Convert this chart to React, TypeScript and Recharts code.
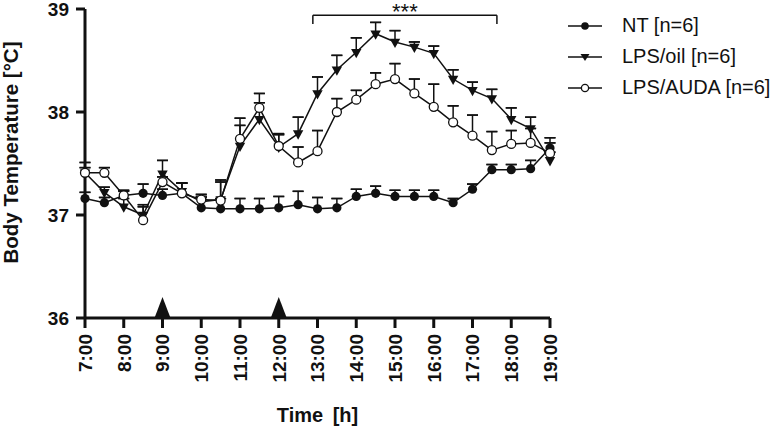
import { LineChart, Line, XAxis, YAxis, ErrorBar, ReferenceLine, ReferenceDot } from "recharts";

// time of day in hours, one reading every 30 min
const times = [7, 7.5, 8, 8.5, 9, 9.5, 10, 10.5, 11, 11.5, 12, 12.5, 13, 13.5, 14, 14.5, 15, 15.5, 16, 16.5, 17, 17.5, 18, 18.5, 19];

const ntMean = [37.16, 37.12, 37.19, 37.21, 37.19, 37.21, 37.07, 37.06, 37.06, 37.06, 37.07, 37.1, 37.06, 37.07, 37.18, 37.21, 37.18, 37.18, 37.18, 37.12, 37.25, 37.44, 37.44, 37.45, 37.65];
const ntSem = [0.06, 0.05, 0.05, 0.09, 0.06, 0.1, 0.1, 0.1, 0.1, 0.1, 0.11, 0.13, 0.11, 0.09, 0.07, 0.07, 0.06, 0.06, 0.06, 0.04, 0.05, 0.05, 0.05, 0.08, 0.1];

const oilMean = [37.41, 37.22, 37.08, 37.0, 37.4, 37.23, 37.13, 37.15, 37.67, 37.93, 37.66, 37.79, 38.18, 38.41, 38.58, 38.76, 38.68, 38.63, 38.57, 38.32, 38.21, 38.13, 37.93, 37.84, 37.53];
const oilSem = [0.1, 0.05, 0.08, 0.08, 0.13, 0.08, 0.05, 0.17, 0.2, 0.16, 0.12, 0.16, 0.16, 0.14, 0.14, 0.11, 0.11, 0.05, 0.07, 0.09, 0.08, 0.09, 0.11, 0.11, 0.08];

const audaMean = [37.41, 37.41, 37.19, 36.95, 37.32, 37.21, 37.15, 37.14, 37.74, 38.04, 37.67, 37.51, 37.62, 38.0, 38.12, 38.27, 38.32, 38.18, 38.05, 37.9, 37.77, 37.63, 37.69, 37.7, 37.6];
const audaSem = [0.05, 0.05, 0.04, 0.15, 0.05, 0.1, 0.05, 0.2, 0.2, 0.14, 0.12, 0.15, 0.2, 0.13, 0.09, 0.11, 0.15, 0.14, 0.22, 0.16, 0.2, 0.18, 0.13, 0.14, 0.1];

const hourTicks = [7, 8, 9, 10, 11, 12, 13, 14, 15, 16, 17, 18, 19];
const tempTicks = [36, 37, 38, 39];
const injections = [9, 12];
// significance bracket: start, end, bar level, foot level
const sigSpan = [12.88, 17.63];
const sigLevels = [38.94, 38.855];

const data = times.map((t, i) => ({
  t,
  nt: ntMean[i],
  ntErr: ntSem[i],
  oil: oilMean[i],
  oilErr: oilSem[i],
  auda: audaMean[i],
  audaErr: audaSem[i],
}));

const FONT = "'Liberation Sans', Arial, Helvetica, sans-serif";

function HourTick({ x, y, payload }: any) {
  return (
    <text
      x={x}
      y={y}
      transform={`rotate(-90, ${x}, ${y})`}
      textAnchor="end"
      dy="0.36em"
      fontFamily={FONT}
      fontWeight="bold"
      fontSize={19}
      fill="#111"
    >
      {`${payload.value}:00`}
    </text>
  );
}

function YTitle({ viewBox }: any) {
  const cx = viewBox.x + 18;
  const cy = viewBox.y + viewBox.height / 2 - 11;
  return (
    <text
      x={cx}
      y={cy}
      transform={`rotate(-90, ${cx}, ${cy})`}
      textAnchor="middle"
      fontFamily={FONT}
      fontWeight="bold"
      fontSize={20.5}
      fill="#111"
    >
      Body Temperature [°C]
    </text>
  );
}

function XTitle({ viewBox }: any) {
  const cx = viewBox.x + viewBox.width / 2;
  return (
    <text x={cx} y={422} textAnchor="middle" fontFamily={FONT} fontWeight="bold" fontSize={20} wordSpacing={4} fill="#111">
      Time [h]
    </text>
  );
}

const filledDot = (p: any) => <circle key={`nt-${p.index}`} cx={p.cx} cy={p.cy} r={4.6} fill="#111" />;
const openDot = (p: any) => (
  <circle key={`au-${p.index}`} cx={p.cx} cy={p.cy} r={4.5} fill="#fff" stroke="#111" strokeWidth={1.3} />
);
const downTriangle = (p: any) => (
  <polygon
    key={`oil-${p.index}`}
    points={`${p.cx - 5.2},${p.cy - 3.3} ${p.cx + 5.2},${p.cy - 3.3} ${p.cx},${p.cy + 6}`}
    fill="#111"
  />
);

const InjectionMark = (p: any) => (
  <polygon points={`${p.cx - 8},${p.cy} ${p.cx + 8},${p.cy} ${p.cx},${p.cy - 21}`} fill="#111" />
);

const legendRows = [
  { name: "NT [n=6]", kind: "filled" },
  { name: "LPS/oil [n=6]", kind: "triangle" },
  { name: "LPS/AUDA [n=6]", kind: "open" },
];

function LegendSymbol({ kind }: { kind: string }) {
  return (
    <svg width={36} height={16} style={{ display: "block" }}>
      <line x1={1} y1={8} x2={35} y2={8} stroke="#111" strokeWidth={1.5} />
      {kind === "filled" && <circle cx={18} cy={8} r={3.8} fill="#111" />}
      {kind === "open" && <circle cx={18} cy={8} r={3.6} fill="#fff" stroke="#111" strokeWidth={1.3} />}
      {kind === "triangle" && <polygon points="13.5,5 22.5,5 18,12" fill="#111" />}
    </svg>
  );
}

function errorBars(key: string) {
  // upper-only whisker: a bare stem plus a cap drawn at the top end
  return [
    <ErrorBar key={`${key}-stem`} dataKey={(d: any) => [0, d[key]]} width={0} stroke="#111" strokeWidth={1.5} isAnimationActive={false} />,
    <ErrorBar key={`${key}-cap`} dataKey={(d: any) => [-d[key], d[key]]} width={5.5} stroke="#111" strokeWidth={1.5} isAnimationActive={false} />,
  ];
}

export default function App() {
  return (
    <div style={{ position: "absolute", left: 0, top: 0, width: 780, height: 429, background: "#fff" }}>
      <LineChart width={780} height={429} data={data} margin={{ top: 9, right: 230, left: 0, bottom: 0 }}>
        <XAxis
          dataKey="t"
          type="number"
          domain={[7, 19]}
          ticks={hourTicks}
          interval={0}
          height={111}
          tick={<HourTick />}
          tickSize={10}
          tickMargin={6}
          axisLine={{ stroke: "#111", strokeWidth: 3 }}
          tickLine={{ stroke: "#111", strokeWidth: 3 }}
          label={<XTitle />}
        />
        <YAxis
          type="number"
          domain={[36, 39]}
          ticks={tempTicks}
          interval={0}
          width={85}
          tickSize={9}
          tickMargin={7}
          axisLine={{ stroke: "#111", strokeWidth: 3 }}
          tickLine={{ stroke: "#111", strokeWidth: 3 }}
          tick={{ fill: "#111", fontFamily: FONT, fontWeight: "bold", fontSize: 19 }}
          label={<YTitle />}
        />
        <ReferenceLine
          segment={[{ x: sigSpan[0], y: sigLevels[0] }, { x: sigSpan[1], y: sigLevels[0] }]}
          stroke="#111"
          strokeWidth={1.5}
          label={{ value: "***", position: "top", offset: -4, fontFamily: FONT, fontSize: 22, fill: "#111" }}
        />
        <ReferenceLine segment={[{ x: sigSpan[0], y: sigLevels[0] }, { x: sigSpan[0], y: sigLevels[1] }]} stroke="#111" strokeWidth={1.5} />
        <ReferenceLine segment={[{ x: sigSpan[1], y: sigLevels[0] }, { x: sigSpan[1], y: sigLevels[1] }]} stroke="#111" strokeWidth={1.5} />
        <Line dataKey="nt" stroke="#111" strokeWidth={1.5} dot={filledDot} activeDot={false} isAnimationActive={false}>
          {errorBars("ntErr")}
        </Line>
        <Line dataKey="oil" stroke="#111" strokeWidth={1.5} dot={downTriangle} activeDot={false} isAnimationActive={false}>
          {errorBars("oilErr")}
        </Line>
        <Line dataKey="auda" stroke="#111" strokeWidth={1.5} dot={openDot} activeDot={false} isAnimationActive={false}>
          {errorBars("audaErr")}
        </Line>
        {injections.map((h) => (
          <ReferenceDot key={h} x={h} y={36} r={8} shape={InjectionMark} ifOverflow="visible" />
        ))}
      </LineChart>
      <div style={{ position: "absolute", left: 567, top: 10, fontFamily: FONT, fontSize: 20, color: "#111" }}>
        {legendRows.map((row) => (
          <div key={row.name} style={{ display: "flex", alignItems: "center", height: 31 }}>
            <LegendSymbol kind={row.kind} />
            <span style={{ marginLeft: 19, whiteSpace: "nowrap" }}>{row.name}</span>
          </div>
        ))}
      </div>
    </div>
  );
}
